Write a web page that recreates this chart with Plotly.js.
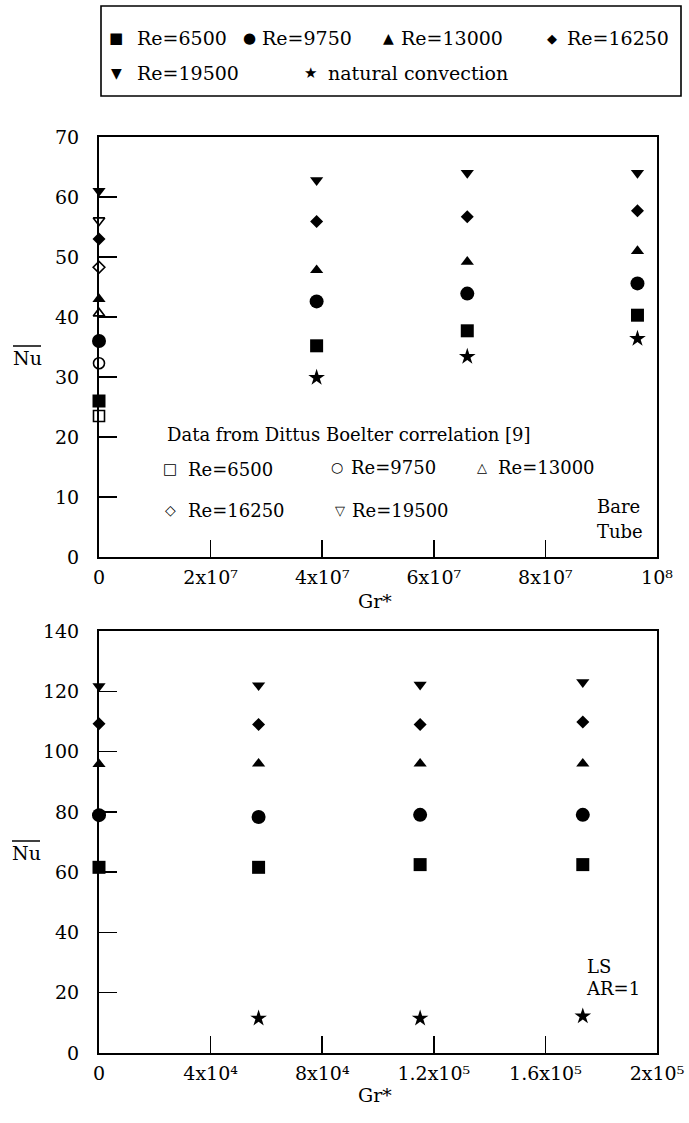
<!DOCTYPE html>
<html><head><meta charset="utf-8">
<script src="https://cdn.plot.ly/plotly-3.0.1.min.js"></script>
<style>html,body{margin:0;padding:0;background:#fff}</style>
</head><body>
<div id="chart" style="width:689px;height:1123px"></div>
<script>
// ---------- data ----------
const reLabels = ["Re=6500", "Re=9750", "Re=13000", "Re=16250", "Re=19500"];
const naturalLabel = "natural convection";

// Bare tube (top panel)
const grBare = [0, 3.9e7, 6.6e7, 9.65e7];
const nuBare6500 = [26, 35.2, 37.7, 40.3];
const nuBare9750 = [36, 42.6, 43.9, 45.6];
const nuBare13000 = [43, 47.8, 49.2, 51];
const nuBare16250 = [53, 55.9, 56.7, 57.7];
const nuBare19500 = [61, 62.8, 64, 64];
const grBareNatural = [3.9e7, 6.6e7, 9.65e7];
const nuBareNatural = [29.9, 33.4, 36.4];

// Dittus Boelter correlation (open symbols at Gr*=0)
const grDittus = [0];
const nuDittus6500 = [23.5];
const nuDittus9750 = [32.3];
const nuDittus13000 = [40.6];
const nuDittus16250 = [48.3];
const nuDittus19500 = [56.1];

// LS, AR=1 (bottom panel)
const grLS = [0, 5.72e4, 1.151e5, 1.734e5];
const nuLS6500 = [61.6, 61.6, 62.5, 62.5];
const nuLS9750 = [78.9, 78.3, 79, 79];
const nuLS13000 = [95.8, 96, 96, 96];
const nuLS16250 = [109.2, 109, 109, 109.8];
const nuLS19500 = [121.7, 122, 122.2, 123];
const grLSNatural = [5.72e4, 1.151e5, 1.734e5];
const nuLSNatural = [11.5, 11.5, 12.2];

// ticks
const bareXTickVals = [0, 2e7, 4e7, 6e7, 8e7, 1e8];
const bareXTickText = ["0", "2x10\u2077", "4x10\u2077", "6x10\u2077", "8x10\u2077", "10\u2078"];
const bareYTickVals = [0, 10, 20, 30, 40, 50, 60, 70];
const lsXTickVals = [0, 4e4, 8e4, 1.2e5, 1.6e5, 2e5];
const lsXTickText = ["0", "4x10\u2074", "8x10\u2074", "1.2x10\u2075", "1.6x10\u2075", "2x10\u2075"];
const lsYTickVals = [0, 20, 40, 60, 80, 100, 120, 140];

// ---------- styles ----------
const W = 689, H = 1123;
const px = x => x / W;
const py = y => 1 - y / H;
const FONT = "DejaVu Serif";
const SYMFONT = "DejaVu Sans";

const filled = [
  {symbol: "square", size: 13},
  {symbol: "circle", size: 14},
  {symbol: "triangle-up", size: 11.5},
  {symbol: "diamond", size: 10},
  {symbol: "triangle-down", size: 11.5}
];
const openSyms = [
  {symbol: "square-open", size: 11},
  {symbol: "circle-open", size: 11},
  {symbol: "triangle-up-open", size: 10},
  {symbol: "diamond-open", size: 9},
  {symbol: "triangle-down-open", size: 10}
];

const bareSeries = [nuBare6500, nuBare9750, nuBare13000, nuBare16250, nuBare19500];
const dittusSeries = [nuDittus6500, nuDittus9750, nuDittus13000, nuDittus16250, nuDittus19500];
const lsSeries = [nuLS6500, nuLS9750, nuLS13000, nuLS16250, nuLS19500];

const traces = [];
bareSeries.forEach((ys, i) => traces.push({
  type: "scatter", mode: "markers", x: grBare, y: ys, name: reLabels[i],
  xaxis: "x", yaxis: "y", cliponaxis: false, showlegend: false,
  marker: {symbol: filled[i].symbol, size: filled[i].size, color: "#000", line: {width: 0}}
}));
traces.push({
  type: "scatter", mode: "markers", x: grBareNatural, y: nuBareNatural, name: naturalLabel,
  xaxis: "x", yaxis: "y", cliponaxis: false, showlegend: false,
  marker: {symbol: "star", size: 12.5, color: "#000", line: {width: 0}}
});
dittusSeries.forEach((ys, i) => traces.push({
  type: "scatter", mode: "markers", x: grDittus, y: ys, name: "Dittus Boelter " + reLabels[i],
  xaxis: "x", yaxis: "y", cliponaxis: false, showlegend: false,
  marker: {symbol: openSyms[i].symbol, size: openSyms[i].size, color: "#000", line: {width: 1.6, color: "#000"}}
}));
lsSeries.forEach((ys, i) => traces.push({
  type: "scatter", mode: "markers", x: grLS, y: ys, name: reLabels[i],
  xaxis: "x2", yaxis: "y2", cliponaxis: false, showlegend: false,
  marker: {symbol: filled[i].symbol, size: filled[i].size, color: "#000", line: {width: 0}}
}));
traces.push({
  type: "scatter", mode: "markers", x: grLSNatural, y: nuLSNatural, name: naturalLabel,
  xaxis: "x2", yaxis: "y2", cliponaxis: false, showlegend: false,
  marker: {symbol: "star", size: 12.5, color: "#000", line: {width: 0}}
});

const axisCommon = {
  showgrid: false, zeroline: false, showline: true, mirror: true,
  linecolor: "#000", linewidth: 2, ticks: "inside", tickcolor: "#000",
  tickwidth: 1.5, tickfont: {family: FONT, size: 19, color: "#000"},
  layer: "below traces", fixedrange: true
};
const xDomain = [px(99), px(657)];

const annotations = [];
function txt(text, x, y, opts) {
  annotations.push(Object.assign({
    text: text, xref: "paper", yref: "paper", x: px(x), y: py(y),
    xanchor: "left", yanchor: "middle", showarrow: false,
    font: {family: FONT, size: 18, color: "#000"}
  }, opts || {}));
}
function sym(ch, x, y, size) {
  txt(ch, x, y, {xanchor: "center", font: {family: SYMFONT, size: size, color: "#000"}});
}
const big = {family: FONT, size: 19, color: "#000"};

// Top legend
const legRow1 = 38, legRow2 = 73;
sym("\u25A0", 116, legRow1, 15); txt(reLabels[0], 135, legRow1, {font: big});
sym("\u25CF", 249, legRow1, 15); txt(reLabels[1], 260, legRow1, {font: big});
sym("\u25B2", 388, legRow1, 14); txt(reLabels[2], 399, legRow1, {font: big});
sym("\u25C6", 552, legRow1, 13); txt(reLabels[3], 565, legRow1, {font: big});
sym("\u25BC", 116, legRow2, 14); txt(reLabels[4], 135, legRow2, {font: big});
sym("\u2605", 310, legRow2, 15); txt(naturalLabel, 326, legRow2, {font: big});

// Dittus Boelter key inside top panel
txt("Data from Dittus Boelter correlation [9]", 165, 435);
sym("\u25A1", 170, 469, 15); txt(reLabels[0], 186, 469);
sym("\u25CB", 337, 467, 14); txt(reLabels[1], 349, 467);
sym("\u25B3", 482, 467, 13); txt(reLabels[2], 496, 467);
sym("\u25C7", 170, 510, 14); txt(reLabels[3], 186, 510);
sym("\u25BD", 340, 510, 13); txt(reLabels[4], 350, 510);
txt("Bare", 595, 507);
txt("Tube", 595, 531);
// bottom panel label
txt("LS", 585, 966);
txt("AR=1", 584, 988);

// axis titles
txt("Nu", 27, 358, {xanchor: "center", font: big});
txt("Nu", 26, 853, {xanchor: "center", font: big});
txt("Gr*", 375, 601, {xanchor: "center", font: big});
txt("Gr*", 375, 1095, {xanchor: "center", font: big});

const layout = {
  width: W, height: H,
  margin: {l: 0, r: 0, t: 0, b: 0, pad: 0},
  paper_bgcolor: "#fff", plot_bgcolor: "#fff",
  showlegend: false,
  xaxis: Object.assign({}, axisCommon, {
    domain: xDomain, anchor: "y", range: [0, 1e8],
    tickmode: "array", tickvals: bareXTickVals, ticktext: bareXTickText,
    ticklen: 17, ticklabelstandoff: 2
  }),
  yaxis: Object.assign({}, axisCommon, {
    domain: [py(557), py(137)], anchor: "x", range: [0, 70],
    tickmode: "array", tickvals: bareYTickVals, ticklen: 18, ticklabelstandoff: 14
  }),
  xaxis2: Object.assign({}, axisCommon, {
    domain: xDomain, anchor: "y2", range: [0, 2e5],
    tickmode: "array", tickvals: lsXTickVals, ticktext: lsXTickText,
    ticklen: 17, ticklabelstandoff: 2
  }),
  yaxis2: Object.assign({}, axisCommon, {
    domain: [py(1053), py(631)], anchor: "x2", range: [0, 140],
    tickmode: "array", tickvals: lsYTickVals, ticklen: 18, ticklabelstandoff: 14
  }),
  shapes: [
    {type: "rect", xref: "paper", yref: "paper",
     x0: px(101), x1: px(681), y0: py(96), y1: py(6),
     line: {color: "#000", width: 1.6}},
    {type: "line", xref: "paper", yref: "paper",
     x0: px(13), x1: px(41), y0: py(346), y1: py(346),
     line: {color: "#000", width: 1.5}},
    {type: "line", xref: "paper", yref: "paper",
     x0: px(12), x1: px(40), y0: py(841), y1: py(841),
     line: {color: "#000", width: 1.5}}
  ],
  annotations: annotations
};

Plotly.newPlot("chart", traces, layout, {staticPlot: true, displayModeBar: false});
</script>
</body></html>
